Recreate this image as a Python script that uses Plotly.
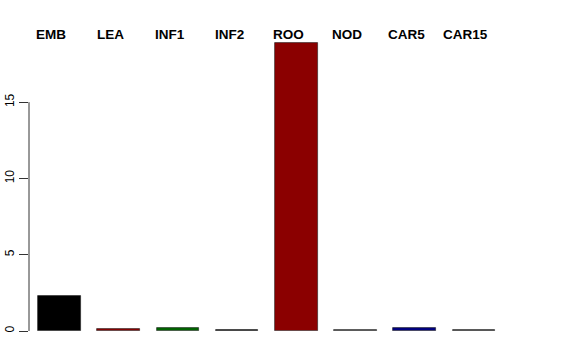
import plotly.graph_objects as go

categories = ["EMB", "LEA", "INF1", "INF2", "ROO", "NOD", "CAR5", "CAR15"]
values = [2.30, 0.15, 0.17, 0.08, 18.85, 0.04, 0.17, 0.04]
colors = ["#000000", "#8B0000", "#006400", "#000000", "#8B0000", "#555555", "#000080", "#444444"]
tick_vals = [0, 5, 10, 15]
tick_text = ["0", "5", "10", "15"]

xpos = list(range(len(categories)))

fig = go.Figure()
fig.add_trace(go.Bar(
    x=xpos, y=values, width=0.718,
    marker=dict(color=colors, line=dict(color="rgba(30,30,30,0.75)", width=0.8)),
    showlegend=False, hoverinfo="skip",
))

for xi, lab in zip(xpos, categories):
    fig.add_annotation(x=xi, y=1, xref="x", yref="paper", yanchor="bottom",
                       xshift=-8, yshift=-10, text="<b>%s</b>" % lab, showarrow=False,
                       font=dict(family="Liberation Sans, Arial, sans-serif", size=13.5, color="black"))

# y axis line from 0 to 15 only (R style)
fig.add_shape(type="line", xref="paper", yref="y", x0=0, x1=0, y0=tick_vals[0], y1=tick_vals[-1],
              line=dict(color="#333333", width=1))

fig.update_layout(
    width=576, height=360,
    margin=dict(l=29, r=36, t=34, b=29),
    paper_bgcolor="white", plot_bgcolor="white",
    bargap=0,
    xaxis=dict(range=[-0.515, 8.117], showticklabels=False, showgrid=False, zeroline=False,
               showline=False, ticks="", automargin=False),
    yaxis=dict(range=[0, 19.47], tickvals=tick_vals, ticktext=tick_text, tickangle=-90,
               ticks="outside", ticklen=9, tickcolor="#333333", showgrid=False, zeroline=False,
               showline=False, automargin=False,
               tickfont=dict(family="Liberation Sans, Arial, sans-serif", size=12, color="black")),
)

fig.write_html("out.html")
